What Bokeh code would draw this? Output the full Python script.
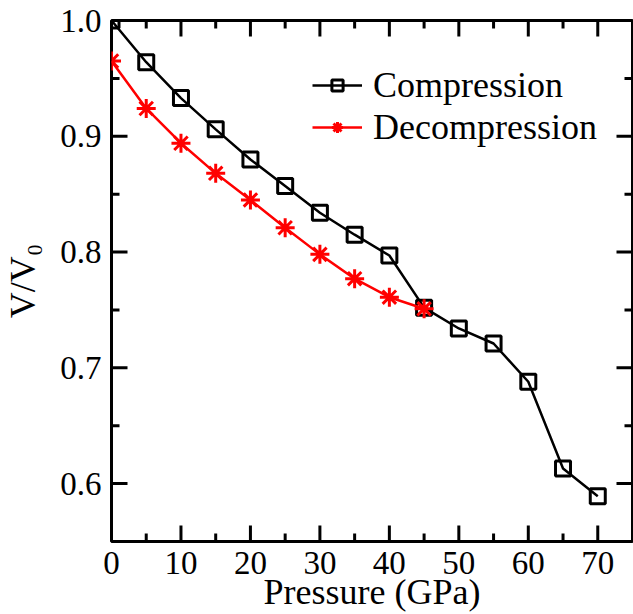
import math
from bokeh.plotting import figure
from bokeh.models import (LinearAxis, FixedTicker, Legend, LegendItem,
                          PrintfTickFormatter)
from bokeh.embed import file_html
from bokeh.resources import INLINE

# Data
pressure_comp = [0, 5, 10, 15, 20, 25, 30, 35, 40, 45, 50, 55, 60, 65, 70]
v_comp = [1.000, 0.964, 0.933, 0.906, 0.880, 0.857, 0.834, 0.815, 0.797,
          0.752, 0.734, 0.721, 0.688, 0.613, 0.589]
pressure_decomp = [0, 5, 10, 15, 20, 25, 30, 35, 40, 45]
v_decomp = [0.965, 0.924, 0.894, 0.868, 0.845, 0.821, 0.798, 0.777, 0.761, 0.751]

x_lo, x_hi = 0, 75
y_lo, y_hi = 0.55, 1.0
x_major = [0, 10, 20, 30, 40, 50, 60, 70]
x_minor = [5, 15, 25, 35, 45, 55, 65, 75]
y_major = [0.6, 0.7, 0.8, 0.9, 1.0]
y_minor = [0.55, 0.65, 0.75, 0.85, 0.95]

FONT = "Liberation Serif"

p = figure(width=633, height=614, x_range=(x_lo, x_hi), y_range=(y_lo, y_hi),
           output_backend="svg", toolbar_location=None,
           min_border_left=111, min_border_right=1,
           min_border_top=20, min_border_bottom=73,
           x_axis_type=None, y_axis_type=None)
p.grid.visible = False
p.outline_line_color = "black"
p.outline_line_width = 3
p.background_fill_color = "white"
p.border_fill_color = "white"


def style(ax):
    ax.axis_line_color = None
    ax.major_tick_line_color = None
    ax.minor_tick_line_color = None
    ax.major_tick_in = 0
    ax.major_tick_out = 0
    ax.minor_tick_in = 0
    ax.minor_tick_out = 0
    ax.major_label_text_font = FONT
    ax.major_label_text_font_size = "33px"
    ax.major_label_text_color = "black"
    ax.axis_label_text_font = FONT
    ax.axis_label_text_font_size = "36px"
    ax.axis_label_text_font_style = "normal"
    ax.axis_label_text_color = "black"


xb = LinearAxis(ticker=FixedTicker(ticks=x_major), axis_label="Pressure (GPa)")
style(xb)
xb.major_label_standoff = 10
xb.axis_label_standoff = -5
p.add_layout(xb, "below")

yl = LinearAxis(ticker=FixedTicker(ticks=y_major), axis_label="V/V\u2080",
                formatter=PrintfTickFormatter(format="%.1f"))
style(yl)
yl.major_label_standoff = 10
yl.axis_label_standoff = 14
p.add_layout(yl, "left")

# inward tick marks on all four sides
tick_kw = dict(line_color="black", line_width=3, length_units="screen")
p.ray(x=x_major, y=[y_lo] * len(x_major), length=16, angle=math.pi / 2, **tick_kw)
p.ray(x=x_major, y=[y_hi] * len(x_major), length=16, angle=-math.pi / 2, **tick_kw)
p.ray(x=x_minor, y=[y_lo] * len(x_minor), length=8, angle=math.pi / 2, **tick_kw)
p.ray(x=x_minor, y=[y_hi] * len(x_minor), length=8, angle=-math.pi / 2, **tick_kw)
p.ray(x=[x_lo] * len(y_major), y=y_major, length=16, angle=0, **tick_kw)
p.ray(x=[x_hi] * len(y_major), y=y_major, length=16, angle=math.pi, **tick_kw)
p.ray(x=[x_lo] * len(y_minor), y=y_minor, length=8, angle=0, **tick_kw)
p.ray(x=[x_hi] * len(y_minor), y=y_minor, length=8, angle=math.pi, **tick_kw)

cl = p.line(pressure_comp, v_comp, line_color="black", line_width=2.5)
cs = p.scatter(pressure_comp, v_comp, marker="square", size=15,
               fill_color=None, line_color="black", line_width=3)
dl = p.line(pressure_decomp, v_decomp, line_color="#ff0000", line_width=2.5)
ds = p.scatter(pressure_decomp, v_decomp, marker="asterisk", size=19,
               line_color="#ff0000", line_width=3)

legend = Legend(items=[LegendItem(label="Compression", renderers=[cl, cs]),
                       LegendItem(label="Decompression", renderers=[dl, ds])],
                location=(201, 393))
legend.label_text_font = FONT
legend.label_text_font_size = "36px"
legend.label_text_color = "black"
legend.glyph_width = 50
legend.glyph_height = 28
legend.label_height = 28
legend.label_standoff = 11
legend.spacing = -1
legend.padding = 0
legend.margin = 0
legend.border_line_color = None
legend.background_fill_alpha = 0
p.add_layout(legend, "center")

open("out.html", "w").write(file_html(p, INLINE))
